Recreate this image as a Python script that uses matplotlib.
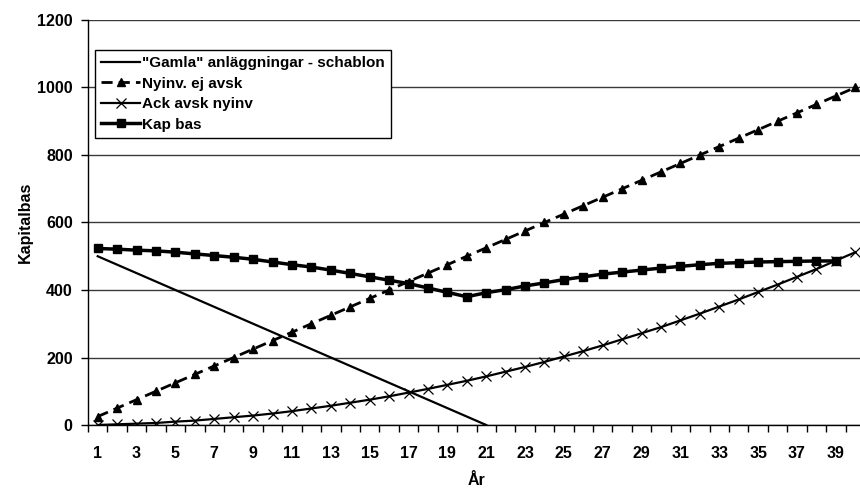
import matplotlib

matplotlib.use("Agg")
import matplotlib.pyplot as plt  # noqa: E402
import numpy as np  # noqa: E402

plt.rcParams["font.family"] = ["Liberation Sans", "DejaVu Sans"]
plt.rcParams["font.weight"] = "bold"

years = list(range(1, 41))

# values
gamla = [500, 475, 450, 425, 400, 375, 350, 325, 300, 275, 250,
         225, 200, 175, 150, 125, 100, 75, 50, 25, 0]
nyinv = [25, 50, 75, 100, 125, 150, 175, 200, 225, 250,
         275, 300, 325, 350, 375, 400, 425, 450, 475, 500,
         525, 550, 575, 600, 625, 650, 675, 700, 725, 750,
         775, 800, 825, 850, 875, 900, 925, 950, 975, 1000]
ack_avsk = [0, 2, 4, 6, 10, 13, 18, 23, 28, 34,
            41, 49, 57, 66, 75, 85, 96, 107, 119, 131,
            144, 158, 172, 187, 203, 219, 236, 254, 272, 290,
            310, 330, 351, 372, 394, 416, 439, 462, 487, 512]
kap_bas = [523, 521, 518, 516, 512, 507, 502, 497, 491, 483,
           475, 468, 459, 449, 439, 429, 419, 406, 393, 380,
           392, 401, 412, 421, 431, 439, 447, 453, 459, 465,
           470, 475, 479, 481, 483, 484, 485, 486, 486]

labels = ['"Gamla" anläggningar - schablon', "Nyinv. ej avsk",
          "Ack avsk nyinv", "Kap bas"]

fig = plt.figure(figsize=(8.6, 4.88), dpi=100)
ax = fig.add_axes([88 / 860, 63 / 488, 777 / 860, 405 / 488])

ax.plot(years[:len(gamla)], gamla, color="black", lw=1.6, label=labels[0])
ax.plot(years[:len(nyinv)], nyinv, color="black", lw=2.0, ls=(0, (4, 2.2)),
        marker="^", ms=5.5, label=labels[1])
ax.plot(years[:len(ack_avsk)], ack_avsk, color="black", lw=1.6,
        marker="x", ms=7.5, mew=0.9, label=labels[2])
ax.plot(years[:len(kap_bas)], kap_bas, color="black", lw=2.5,
        marker="s", ms=6, label=labels[3])

ax.set_xlim(0.5, 40.5)
ax.set_ylim(0, 1200)
ax.set_yticks(np.arange(0, 1201, 200))
ax.yaxis.grid(True, color="#3a3a3a", lw=1.0)
ax.set_axisbelow(True)

ax.set_xticks(range(1, 40, 2))
ax.set_xticks(np.arange(0.5, 41, 1), minor=True)
ax.tick_params(axis="x", which="major", length=0, pad=15, labelsize=11.5)
ax.tick_params(axis="x", which="minor", length=5, width=1, direction="out")
ax.tick_params(axis="y", length=5, width=1, direction="out", pad=6, labelsize=11.5)

for side in ("top", "right"):
    ax.spines[side].set_visible(False)
ax.spines["left"].set_linewidth(1.0)
ax.spines["bottom"].set_linewidth(1.0)

ax.set_xlabel("År", fontsize=11.5, fontweight="bold", labelpad=9)
ax.set_ylabel("Kapitalbas", fontsize=11.5, fontweight="bold", labelpad=3)

leg = ax.legend(loc="upper left", bbox_to_anchor=(7 / 777, 375 / 405),
                borderaxespad=0, frameon=True, fancybox=False,
                edgecolor="black", framealpha=1, fontsize=11,
                handlelength=2.5, handletextpad=0.15, labelspacing=0.42,
                borderpad=0.42)
leg.get_frame().set_linewidth(1.0)
for t in leg.get_texts():
    t.set_fontweight("bold")

fig.savefig("out.png", dpi=100)
plt.close(fig)
